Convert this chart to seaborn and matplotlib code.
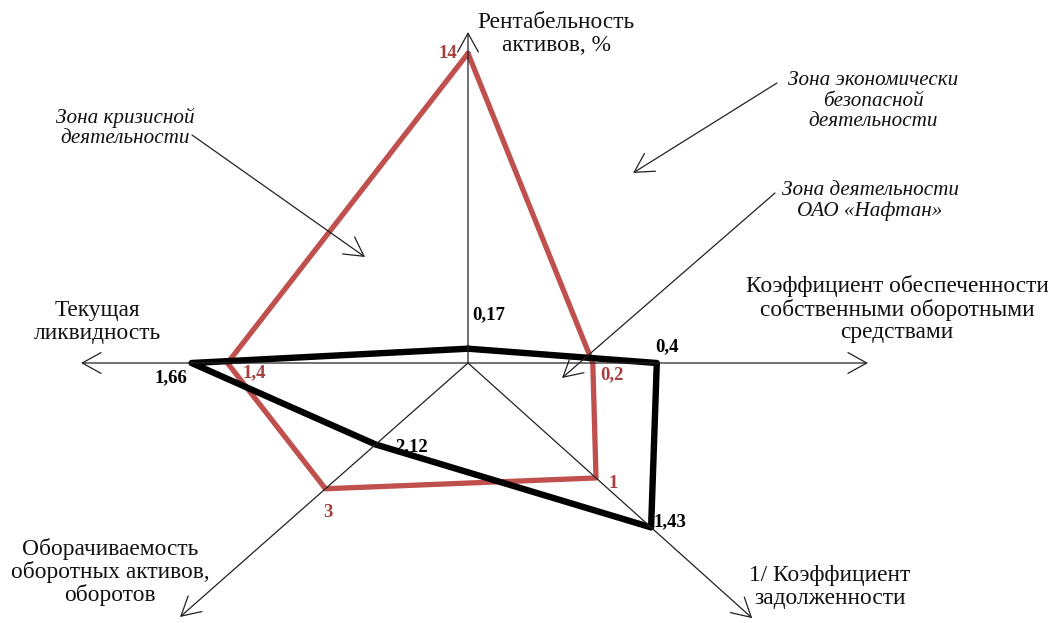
import numpy as np
import pandas as pd
import matplotlib
matplotlib.use("Agg")
import matplotlib.pyplot as plt
import seaborn as sns

# Оси диаграммы (по часовой стрелке, начиная сверху)
axis_names = [
    "Рентабельность\nактивов, %",
    "Коэффициент обеспеченности\nсобственными оборотными\nсредствами",
    "1/ Коэффициент\nзадолженности",
    "Оборачиваемость\nоборотных активов,\nоборотов",
    "Текущая\nликвидность",
]
# нормативные значения (красный контур) и значения ОАО «Нафтан» (чёрный контур)
norm_values = [14, 0.2, 1, 3, 1.4]
naftan_values = [0.17, 0.4, 1.43, 2.12, 1.66]
norm_labels = ["14", "0,2", "1", "3", "1,4"]
naftan_labels = ["0,17", "0,4", "1,43", "2,12", "1,66"]

# шкала каждой оси: значение в центре и на конце стрелки
axis_lo = [-0.5, -0.19, 0.0, 0.5, -0.34]
axis_hi = [15.0, 1.06, 2.22, 5.55, 2.46]

# геометрия (в пикселях рисунка)
center = np.array([468.0, 363.0])
axis_dir = [(0, -1), (1, 0), (284, 255), (-288, 254), (-1, 0)]
axis_len = [331, 400, 382, 384, 387]
dirs = [np.array(d, float) / np.hypot(*d) for d in axis_dir]


def to_xy(i, v):
    r = (v - axis_lo[i]) / (axis_hi[i] - axis_lo[i]) * axis_len[i]
    return center + dirs[i] * r


def polygon(values, name):
    pts = [to_xy(i, v) for i, v in enumerate(values)]
    pts.append(pts[0])
    return pd.DataFrame({"x": [p[0] for p in pts], "y": [p[1] for p in pts],
                         "order": range(len(pts)), "series": name})


sns.set_style("white")
plt.rcParams["font.family"] = ["Liberation Serif", "DejaVu Serif"]

fig = plt.figure(figsize=(10.48, 6.23), dpi=100)
ax = fig.add_axes([0, 0, 1, 1])
ax.set_xlim(0, 1048)
ax.set_ylim(623, 0)
ax.axis("off")

arrow_kw = dict(arrowstyle="->,head_length=0.9,head_width=0.5",
                color="#222222", lw=0.9, mutation_scale=15,
                shrinkA=0, shrinkB=0)

# оси со стрелками
for i in range(5):
    tip = center + dirs[i] * axis_len[i]
    ax.annotate("", xy=tip, xytext=center, arrowprops=arrow_kw)

red = "#C0504D"
df_norm = polygon(norm_values, "norm")
df_naftan = polygon(naftan_values, "naftan")
sns.lineplot(data=df_norm, x="x", y="y", sort=False, estimator=None,
             color=red, lw=3.8, ax=ax, legend=False)
sns.lineplot(data=df_naftan, x="x", y="y", sort=False, estimator=None,
             color="black", lw=4.6, ax=ax, legend=False)
ax.set_xlim(0, 1048)
ax.set_ylim(623, 0)
ax.set_xlabel("")
ax.set_ylabel("")

# подписи значений
norm_off = [(-11, 0, "right"), (7, 12, "left"), (12, 6, "left"), (3, 24, "center"), (15, 10, "left")]
naftan_off = [(4, -34, "left"), (-2, -16, "left"), (2, -6, "left"), (20, 2, "left"), (-4, 15, "right")]
for i in range(5):
    x, y = to_xy(i, norm_values[i])
    dx, dy, ha = norm_off[i]
    ax.text(x + dx, y + dy, norm_labels[i], color="#A5403E", fontsize=13.5,
            fontweight="bold", ha=ha, va="center")
    x, y = to_xy(i, naftan_values[i])
    dx, dy, ha = naftan_off[i]
    ax.text(x + dx, y + dy, naftan_labels[i], color="black", fontsize=13.5,
            fontweight="bold", ha=ha, va="center")

# названия осей
name_pos = [(556, 34), (897, 309), (830, 587), (110, 572), (97, 322)]
for name, (x, y) in zip(axis_names, name_pos):
    ax.text(x, y, name, fontsize=16.8, ha="center", va="center", linespacing=1.07,
            color="#111111")

# зоны
zones = [
    ("Зона кризисной\nдеятельности", (125, 128), (192, 135), (365, 257)),
    ("Зона экономически\nбезопасной\nдеятельности", (873, 101), (777, 83), (633, 173)),
    ("Зона деятельности\nОАО «Нафтан»", (870, 201), (775, 193), (562, 378)),
]
for text, (tx, ty), start, end in zones:
    ax.text(tx, ty, text, fontsize=15.2, style="italic", ha="center", va="center",
            linespacing=1.1, color="#111111")
    ax.annotate("", xy=end, xytext=start, arrowprops=arrow_kw)

fig.savefig("out.png", dpi=100)
